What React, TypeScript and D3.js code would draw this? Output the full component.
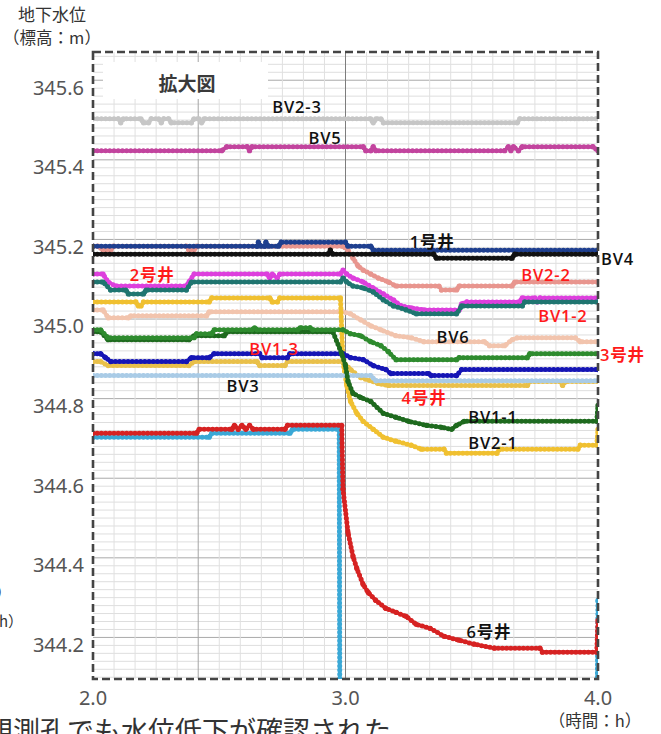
import React from 'react';
import * as d3 from 'd3';

type Pt = [number, number];

// ---- axes ----
const yTickValues = [345.6, 345.4, 345.2, 345.0, 344.8, 344.6, 344.4, 344.2];
const xTickValues = [2.0, 3.0, 4.0];

// ---- series (time [h], level [m]) ----
const bv23: Pt[] = [[2.00,345.52],[2.10,345.52],[2.11,345.51],[2.12,345.52],[2.19,345.52],[2.20,345.51],[2.22,345.51],[2.23,345.52],[2.26,345.52],[2.27,345.51],[2.28,345.52],[2.30,345.52],[2.31,345.51],[2.39,345.51],[2.40,345.52],[2.42,345.52],[2.43,345.51],[2.44,345.52],[3.10,345.52],[3.11,345.51],[3.12,345.52],[3.14,345.52],[3.15,345.51],[3.68,345.51],[3.69,345.52],[4.00,345.52]];
const bv5: Pt[] = [[2.00,345.44],[2.51,345.44],[2.53,345.45],[2.61,345.45],[2.62,345.44],[2.63,345.45],[3.07,345.45],[3.08,345.44],[3.10,345.44],[3.11,345.45],[3.12,345.44],[3.63,345.44],[3.645,345.45],[3.655,345.44],[3.665,345.45],[3.685,345.44],[3.70,345.45],[3.98,345.45],[4.00,345.44]];
const well1: Pt[] = [[2.00,345.20],[2.65,345.20],[2.655,345.21],[2.665,345.20],[2.68,345.20],[2.685,345.21],[2.695,345.20],[2.735,345.20],[2.745,345.21],[3.00,345.21],[3.01,345.20],[3.10,345.20],[3.11,345.19],[4.00,345.19]];
const bv4: Pt[] = [[2.00,345.18],[2.93,345.18],[2.94,345.19],[2.95,345.18],[3.35,345.18],[3.36,345.17],[3.66,345.17],[3.67,345.18],[4.00,345.18]];
const bv22: Pt[] = [[2.00,345.20],[2.02,345.20],[2.04,345.19],[2.07,345.19],[2.08,345.20],[2.37,345.20],[2.38,345.19],[2.40,345.19],[2.41,345.20],[2.99,345.20],[3.01,345.19],[3.03,345.17],[3.05,345.15],[3.07,345.14],[3.10,345.13],[3.13,345.12],[3.17,345.11],[3.20,345.10],[3.37,345.10],[3.38,345.09],[3.44,345.09],[3.45,345.10],[3.66,345.10],[3.67,345.11],[4.00,345.11]];
const well2: Pt[] = [[2.00,345.13],[2.04,345.13],[2.06,345.11],[2.09,345.10],[2.37,345.10],[2.38,345.11],[2.40,345.13],[2.69,345.13],[2.70,345.12],[2.71,345.13],[2.73,345.12],[2.74,345.13],[2.98,345.13],[2.99,345.14],[3.005,345.13],[3.03,345.12],[3.07,345.11],[3.11,345.095],[3.15,345.08],[3.19,345.065],[3.22,345.05],[3.26,345.045],[3.31,345.04],[3.45,345.04],[3.46,345.055],[3.48,345.06],[3.69,345.06],[3.70,345.07],[3.75,345.07],[3.76,345.06],[3.77,345.07],[4.00,345.07]];
const bv12: Pt[] = [[2.00,345.11],[2.04,345.11],[2.07,345.09],[2.13,345.09],[2.14,345.08],[2.20,345.08],[2.21,345.09],[2.37,345.09],[2.39,345.11],[2.98,345.11],[2.99,345.12],[3.005,345.11],[3.03,345.10],[3.07,345.095],[3.11,345.085],[3.15,345.065],[3.19,345.05],[3.24,345.04],[3.28,345.03],[3.44,345.03],[3.46,345.05],[3.70,345.05],[3.71,345.06],[4.00,345.06]];
const bv21: Pt[] = [[2.00,345.06],[2.17,345.06],[2.18,345.05],[2.19,345.05],[2.20,345.06],[2.46,345.06],[2.47,345.07],[2.70,345.07],[2.71,345.06],[2.73,345.06],[2.74,345.07],[2.98,345.07],[2.99,344.91],[3.005,344.85],[3.02,344.81],[3.045,344.78],[3.07,344.76],[3.11,344.74],[3.15,344.72],[3.20,344.71],[3.26,344.70],[3.30,344.69],[3.39,344.69],[3.40,344.68],[3.60,344.68],[3.61,344.69],[3.92,344.69],[3.93,344.70],[3.995,344.70],[4.00,344.74]];
const bv6: Pt[] = [[2.00,345.04],[2.04,345.04],[2.06,345.02],[2.14,345.02],[2.15,345.025],[2.45,345.025],[2.46,345.035],[2.99,345.035],[3.02,345.03],[3.06,345.015],[3.10,345.00],[3.14,344.99],[3.20,344.975],[3.26,344.97],[3.31,344.96],[3.55,344.96],[3.57,344.95],[3.63,344.95],[3.66,344.965],[3.68,344.97],[3.91,344.97],[3.93,344.96],[4.00,344.96]];
const well3: Pt[] = [[2.00,344.99],[2.03,344.99],[2.06,344.97],[2.40,344.97],[2.41,344.98],[2.47,344.98],[2.48,344.99],[2.63,344.99],[2.64,344.995],[2.65,344.99],[2.81,344.99],[2.82,344.995],[2.86,344.995],[2.87,344.99],[2.99,344.99],[3.02,344.98],[3.06,344.975],[3.10,344.96],[3.14,344.95],[3.17,344.935],[3.20,344.915],[3.44,344.915],[3.45,344.92],[3.72,344.92],[3.73,344.93],[4.00,344.93]];
const bv11: Pt[] = [[2.00,344.985],[2.03,344.985],[2.06,344.965],[2.38,344.965],[2.40,344.975],[2.52,344.975],[2.53,344.985],[2.95,344.985],[2.985,344.93],[3.00,344.90],[3.01,344.86],[3.03,344.83],[3.06,344.82],[3.10,344.81],[3.15,344.78],[3.20,344.77],[3.25,344.76],[3.32,344.75],[3.38,344.745],[3.42,344.74],[3.44,344.75],[3.47,344.76],[3.995,344.76],[4.00,344.80]];
const bv13: Pt[] = [[2.00,344.93],[2.03,344.93],[2.05,344.92],[2.07,344.91],[2.37,344.91],[2.39,344.92],[2.46,344.92],[2.48,344.93],[2.66,344.93],[2.67,344.92],[2.77,344.92],[2.78,344.93],[2.99,344.93],[3.02,344.92],[3.07,344.915],[3.11,344.90],[3.16,344.89],[3.18,344.88],[3.33,344.88],[3.34,344.875],[3.44,344.875],[3.46,344.89],[4.00,344.89]];
const well4: Pt[] = [[2.00,344.91],[2.03,344.91],[2.06,344.90],[2.38,344.90],[2.40,344.91],[2.65,344.91],[2.66,344.90],[2.76,344.90],[2.77,344.91],[2.99,344.91],[3.02,344.89],[3.06,344.87],[3.13,344.855],[3.17,344.85],[3.72,344.85],[3.73,344.86],[3.85,344.86],[3.86,344.85],[3.87,344.86],[4.00,344.86]];
const bv3: Pt[] = [[2.00,344.875],[3.10,344.875],[3.12,344.862],[4.00,344.862]];
const cyanWell: Pt[] = [[2.00,344.72],[2.46,344.72],[2.47,344.73],[2.78,344.73],[2.79,344.74],[2.975,344.74],[2.978,343.9],[3.995,343.9],[4.00,344.31]];
const well6: Pt[] = [[2.00,344.73],[2.41,344.73],[2.42,344.74],[2.55,344.74],[2.56,344.75],[2.575,344.74],[2.59,344.75],[2.605,344.74],[2.62,344.75],[2.635,344.74],[2.76,344.74],[2.77,344.75],[2.985,344.75],[2.99,344.59],[3.01,344.48],[3.03,344.42],[3.045,344.39],[3.07,344.35],[3.09,344.33],[3.12,344.31],[3.16,344.29],[3.20,344.28],[3.24,344.27],[3.28,344.25],[3.335,344.24],[3.39,344.22],[3.45,344.21],[3.51,344.20],[3.59,344.19],[3.77,344.19],[3.78,344.18],[3.995,344.18],[4.00,344.26]];

const seriesList = [
  { key: 'bv23', color: '#c6c6c6', data: bv23 },
  { key: 'bv5', color: '#c2449e', data: bv5 },
  { key: 'bv22', color: '#e8958e', data: bv22 },
  { key: 'well1', color: '#1e3f8f', data: well1 },
  { key: 'bv4', color: '#111111', data: bv4 },
  { key: 'well2', color: '#dd3fdd', data: well2 },
  { key: 'bv12', color: '#1f7570', data: bv12 },
  { key: 'bv6', color: '#f2c4ad', data: bv6 },
  { key: 'bv21', color: '#f0c030', data: bv21 },
  { key: 'well4', color: '#e9c04a', data: well4 },
  { key: 'bv3', color: '#a9cbe6', data: bv3 },
  { key: 'bv13', color: '#1515b5', data: bv13 },
  { key: 'bv11', color: '#1e6a1e', data: bv11 },
  { key: 'well3', color: '#2e8b2e', data: well3 },
  { key: 'cyan', color: '#3aa8d6', data: cyanWell },
  { key: 'well6', color: '#d62222', data: well6 },
];

// ---- annotations (data coordinates) ----
const RED = '#ff1a1a';
const DARK = '#111111';
const seriesLabels = [
  { text: 'BV2-3', t: 2.808, v: 345.552, color: DARK, anchor: 'middle' },
  { text: 'BV5', t: 2.919, v: 345.472, color: DARK, anchor: 'middle' },
  { text: '1号井', t: 3.343, v: 345.211, color: DARK, anchor: 'middle' },
  { text: 'BV4', t: 4.012, v: 345.170, color: DARK, anchor: 'start' },
  { text: '2号井', t: 2.234, v: 345.130, color: RED, anchor: 'middle' },
  { text: 'BV2-2', t: 3.794, v: 345.128, color: RED, anchor: 'middle' },
  { text: 'BV1-2', t: 3.861, v: 345.027, color: RED, anchor: 'middle' },
  { text: 'BV6', t: 3.426, v: 344.972, color: DARK, anchor: 'middle' },
  { text: 'BV1-3', t: 2.717, v: 344.944, color: RED, anchor: 'middle' },
  { text: '3号井', t: 4.008, v: 344.927, color: RED, anchor: 'start' },
  { text: 'BV3', t: 2.594, v: 344.851, color: DARK, anchor: 'middle' },
  { text: '4号井', t: 3.311, v: 344.819, color: RED, anchor: 'middle' },
  { text: 'BV1-1', t: 3.584, v: 344.771, color: DARK, anchor: 'middle' },
  { text: 'BV2-1', t: 3.584, v: 344.706, color: DARK, anchor: 'middle' },
  { text: '6号井', t: 3.568, v: 344.231, color: DARK, anchor: 'middle' },
];

const JP = '"Noto Sans CJK JP", "Noto Sans", sans-serif';
const LAT = '"Open Sans", "Noto Sans CJK JP", sans-serif';

export default function App() {
  const W = 661, H = 734;
  const left = 93, right = 598, top = 52, bottom = 679;
  const x = d3.scaleLinear().domain([2, 4]).range([left, right]);
  const y = d3.scaleLinear().domain([345.6, 344.2]).range([87, 644.2]);
  const line = d3.line<Pt>().x(d => x(d[0])).y(d => y(d[1]));
  const fmt = d3.format('.1f');

  const hGrid = d3.range(0, 90).map(i => ({ v: 344.017 + i * 0.02, major: i % 10 === 0 }))
    .filter(g => y(g.v) > top + 1 && y(g.v) < bottom - 1);
  const vGrid = d3.range(-11, 12).map(k => ({ t: 3 + k / 12, k }));

  return (
    <svg width={W} height={H} style={{ position: 'absolute', left: 0, top: 0, background: '#fff' }}>
      <defs>
        <clipPath id="plot">
          <rect x={left} y={top} width={right - left} height={bottom - top} />
        </clipPath>
      </defs>
      <rect x={0} y={0} width={W} height={H} fill="#fff" />
      <g>
        {hGrid.map((g, i) => (
          <line key={'h' + i} x1={left} x2={right} y1={y(g.v)} y2={y(g.v)}
            stroke={g.major ? '#a9a9a9' : '#dedede'} strokeWidth={1} />
        ))}
        {vGrid.map(g => (
          <line key={'v' + g.k} x1={x(g.t)} x2={x(g.t)} y1={top} y2={bottom}
            stroke={g.k === 0 ? '#7d7d7d' : g.k === -7 ? '#a5a5a5' : '#e0e0e0'} strokeWidth={1} />
        ))}
      </g>
      <g clipPath="url(#plot)">
        {seriesList.map(s => (
          <g key={s.key}>
            <path d={line(s.data) || ''} fill="none" stroke={s.color} strokeWidth={3.6}
              strokeLinejoin="round" strokeLinecap="round" />
            <path d={line(s.data) || ''} fill="none" stroke={s.color} strokeWidth={5}
              strokeDasharray="0 4.2" strokeLinecap="round" />
            {s.data.map((d, i) => (
              <circle key={i} cx={x(d[0])} cy={y(d[1])} r={2.6} fill={s.color} />
            ))}
          </g>
        ))}
      </g>
      <rect x={left} y={top} width={right - left} height={bottom - top} fill="none"
        stroke="#444" strokeWidth={2.6} strokeDasharray="8 4" />
      <rect x={103} y={62} width={165} height={37} fill="#fff" />
      <text x={187} y={82} textAnchor="middle" dominantBaseline="central" fontFamily={JP}
        fontWeight={700} fontSize={19} fill="#3a3a3a">拡大図</text>

      {seriesLabels.map(l => (
        <text key={l.text} x={x(l.t)} y={y(l.v)} textAnchor={l.anchor as any} dominantBaseline="central"
          fontFamily={LAT} fontWeight={600} fontSize={16.5} letterSpacing={0.8} fill={l.color}>{l.text}</text>
      ))}

      {yTickValues.map(v => (
        <text key={'yt' + v} x={84} y={y(v)} textAnchor="end" dominantBaseline="central"
          fontFamily='"Noto Sans", sans-serif' fontSize={20} fill="#555">{fmt(v)}</text>
      ))}
      {xTickValues.map(t => (
        <text key={'xt' + t} x={x(t)} y={697} textAnchor="middle" dominantBaseline="central"
          fontFamily='"Noto Sans", sans-serif' fontSize={20} fill="#555">{fmt(t)}</text>
      ))}

      <text x={52} y={13} textAnchor="middle" dominantBaseline="central" fontFamily={JP} fontSize={17} fill="#333">地下水位</text>
      <text x={52} y={37} textAnchor="middle" dominantBaseline="central" fontFamily={JP} fontSize={16.5} fill="#333">（標高：m）</text>
      <text x={595} y={720} textAnchor="middle" dominantBaseline="central" fontFamily={JP} fontSize={16.5} fill="#333">（時間：h）</text>
      <text x={-4} y={591} dominantBaseline="central" fontFamily={JP} fontSize={15} fill="#333">）</text>
      <text x={-1} y={620} dominantBaseline="central" fontFamily={JP} fontSize={15} fill="#333">h）</text>
      <text x={-14} y={741} fontFamily={JP} fontSize={27} fill="#333">観測孔でも水位低下が確認された</text>
    </svg>
  );
}
